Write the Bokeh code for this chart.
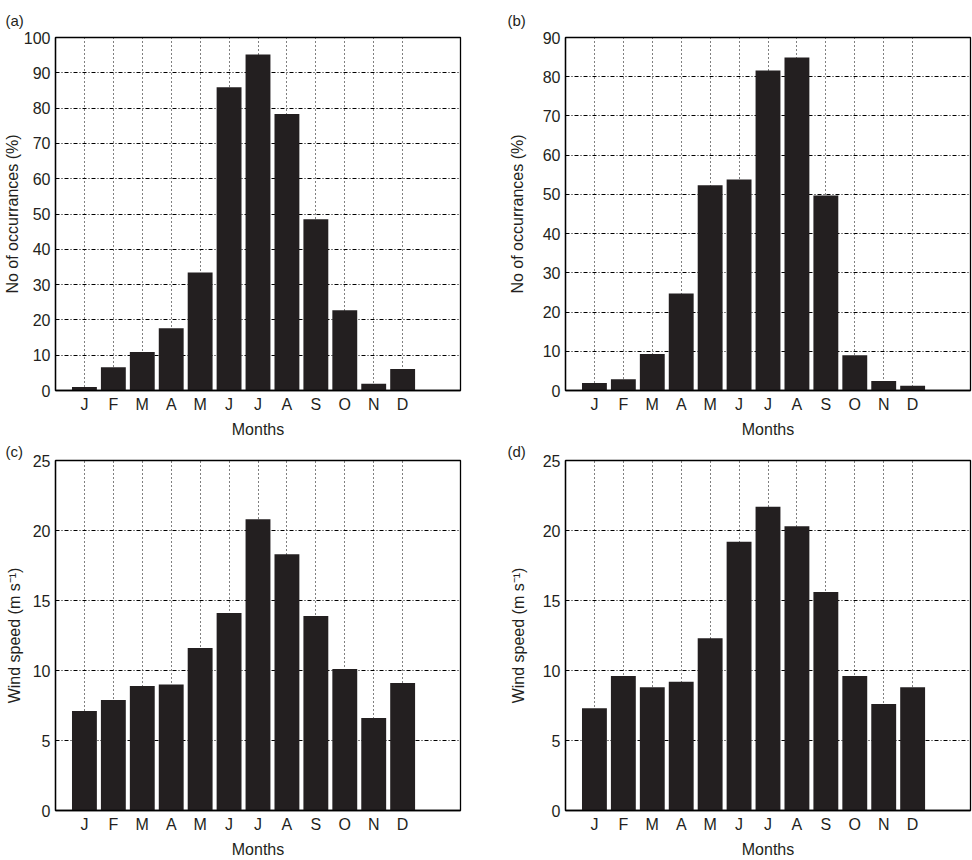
from bokeh.plotting import figure
from bokeh.layouts import gridplot
from bokeh.models import FixedTicker, Range1d
from bokeh.embed import file_html
from bokeh.resources import INLINE

# ---- data ----
months = ["J", "F", "M", "A", "M", "J", "J", "A", "S", "O", "N", "D"]
month_index = [1, 2, 3, 4, 5, 6, 7, 8, 9, 10, 11, 12]

occurrences_a = [1.0, 6.6, 10.9, 17.6, 33.4, 85.9, 95.2, 78.3, 48.5, 22.7, 1.9, 6.1]
occurrences_b = [1.9, 2.9, 9.3, 24.7, 52.3, 53.8, 81.6, 84.9, 49.7, 9.0, 2.4, 1.2]
wind_c = [7.1, 7.9, 8.9, 9.0, 11.6, 14.1, 20.8, 18.3, 13.9, 10.1, 6.6, 9.1]
wind_d = [7.3, 9.6, 8.8, 9.2, 12.3, 19.2, 21.7, 20.3, 15.6, 9.6, 7.6, 8.8]

yticks_a = [0, 10, 20, 30, 40, 50, 60, 70, 80, 90, 100]
yticks_b = [0, 10, 20, 30, 40, 50, 60, 70, 80, 90]
yticks_wind = [0, 5, 10, 15, 20, 25]

panel_labels = ["(a)", "(b)", "(c)", "(d)"]
ylabel_occ = "No of occurrances (%)"
ylabel_wind = "Wind speed (m s\u207b\u00b9)"
xlabel = "Months"

INK = "#231f20"
FONT = "Liberation Sans"
FS = "16px"


def panel(label, values, yticks, ylabel, width, height, bl, br, bt, bb,
          title_x, title_standoff, ylabel_standoff):
    p = figure(width=width, height=height, output_backend="svg",
               toolbar_location=None,
               x_range=Range1d(0, 14), y_range=Range1d(yticks[0], yticks[-1]),
               min_border_left=bl, min_border_right=br,
               min_border_top=bt, min_border_bottom=bb)
    p.vbar(x=month_index, top=values, width=0.86, bottom=0,
           fill_color=INK, line_color=None)

    p.title.text = label
    p.title.align = "left"
    p.title.offset = -bl + title_x
    p.title.standoff = title_standoff
    p.title.text_font = FONT
    p.title.text_font_size = "15px"
    p.title.text_font_style = "normal"
    p.title.text_color = INK

    p.xaxis.ticker = FixedTicker(ticks=month_index)
    p.xaxis.major_label_overrides = {i: m for i, m in zip(month_index, months)}
    p.yaxis.ticker = FixedTicker(ticks=yticks)
    p.xaxis.axis_label = xlabel
    p.yaxis.axis_label = ylabel

    for ax in (p.xaxis, p.yaxis):
        ax.major_tick_line_color = None
        ax.minor_tick_line_color = None
        ax.major_tick_out = 0
        ax.major_tick_in = 0
        ax.minor_tick_out = 0
        ax.minor_tick_in = 0
        ax.axis_line_color = "black"
        ax.axis_line_width = 1.3
        ax.major_label_text_font = FONT
        ax.major_label_text_font_size = FS
        ax.major_label_text_color = INK
        ax.axis_label_text_font = FONT
        ax.axis_label_text_font_size = FS
        ax.axis_label_text_font_style = "normal"
        ax.axis_label_text_color = INK
    p.xaxis.major_label_standoff = 5
    p.xaxis.axis_label_standoff = 5
    p.yaxis.major_label_standoff = 5
    p.yaxis.axis_label_standoff = ylabel_standoff

    p.xgrid.ticker = FixedTicker(ticks=month_index)
    p.xgrid.grid_line_color = "black"
    p.xgrid.grid_line_dash = "1 3"
    p.xgrid.grid_line_width = 1
    p.ygrid.ticker = FixedTicker(ticks=yticks)
    p.ygrid.grid_line_color = "black"
    p.ygrid.grid_line_dash = "4 2 1 2"
    p.ygrid.grid_line_width = 1

    p.outline_line_color = "black"
    p.outline_line_width = 1.3
    p.background_fill_color = "white"
    p.border_fill_color = "white"
    return p


pa = panel(panel_labels[0], occurrences_a, yticks_a, ylabel_occ,
           486, 440, 55, 26, 36, 48, 5, 18, 0)
pb = panel(panel_labels[1], occurrences_b, yticks_b, ylabel_occ,
           486, 440, 79, 2, 36, 48, 21, 18, 14)
pc = panel(panel_labels[2], wind_c, yticks_wind, ylabel_wind,
           486, 420, 55, 26, 19, 45, 5, 1, 7)
pd = panel(panel_labels[3], wind_d, yticks_wind, ylabel_wind,
           486, 420, 79, 2, 19, 45, 21, 1, 13)

grid = gridplot([[pa, pb], [pc, pd]], toolbar_location=None)

open("out.html", "w").write(file_html(grid, INLINE))
